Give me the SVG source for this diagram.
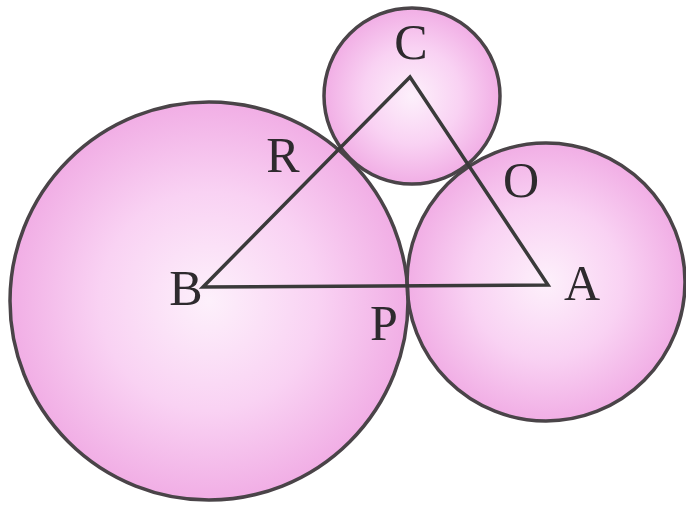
<svg xmlns="http://www.w3.org/2000/svg" width="686" height="510" viewBox="0 0 686 510">
  <defs>
    <radialGradient id="pink" cx="50%" cy="50%" r="50%">
      <stop offset="0" stop-color="#fdf0fb"/>
      <stop offset="0.55" stop-color="#f9d2f3"/>
      <stop offset="1" stop-color="#f1aee5"/>
    </radialGradient>
  </defs>
  <style>
    .fill { fill: url(#pink); stroke: none; }
    .ring { fill: none; stroke: #4a4448; stroke-width: 3.5; }
    .edge { stroke: #3a3a3a; stroke-width: 3.5; fill: none; stroke-linejoin: miter; }
    .lbl { font-family: "Liberation Serif", "Times New Roman", serif; font-size: 50px; fill: #2e2a2e; text-anchor: middle; }
  </style>
  <rect width="686" height="510" fill="#ffffff"/>
  <g id="circle-B">
    <circle class="fill" cx="209" cy="301" r="199"/>
  </g>
  <g id="circle-A">
    <circle class="fill" cx="546" cy="282" r="139"/>
  </g>
  <g id="circle-C">
    <circle class="fill" cx="412" cy="96" r="88"/>
  </g>
  <g id="outlines">
    <circle class="ring" cx="209" cy="301" r="199"/>
    <circle class="ring" cx="546" cy="282" r="139"/>
    <circle class="ring" cx="412" cy="96" r="88"/>
  </g>
  <g id="connectors">
    <path class="edge" d="M 203 287 L 410 77 L 548 285 Z"/>
  </g>
  <g id="labels">
    <text class="lbl" x="411" y="59">C</text>
    <text class="lbl" x="283" y="172">R</text>
    <text class="lbl" x="186" y="305">B</text>
    <text class="lbl" x="384" y="340">P</text>
    <text class="lbl" x="521" y="197">O</text>
    <text class="lbl" x="582" y="300">A</text>
  </g>
</svg>
